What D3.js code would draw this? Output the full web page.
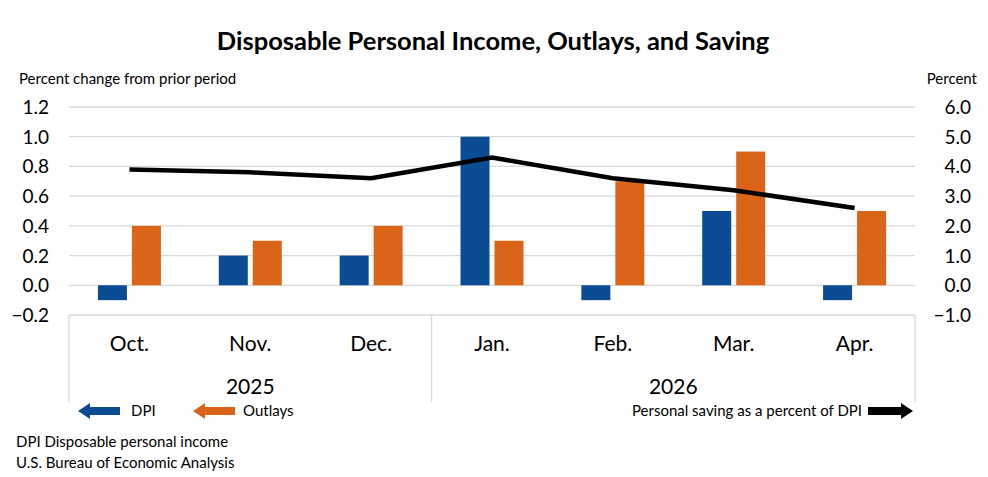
<!DOCTYPE html>
<html><head><meta charset="utf-8">
<script src="https://cdn.jsdelivr.net/npm/d3@7"></script>
<style>body{margin:0;background:#fff}text{font-family:Lato,"Open Sans",sans-serif}</style>
</head><body><svg id="c" width="988" height="477"></svg>
<script>
const months = ["Oct.","Nov.","Dec.","Jan.","Feb.","Mar.","Apr."];
const years = [{label:"2025",from:0,to:3},{label:"2026",from:3,to:7}];
const dpi = [-0.1,0.2,0.2,1.0,-0.1,0.5,-0.1];
const outlays = [0.4,0.3,0.4,0.3,0.7,0.9,0.5];
const saving = [3.9,3.8,3.6,4.3,3.6,3.2,2.6];
const leftTicks = [-0.2,0,0.2,0.4,0.6,0.8,1.0,1.2];
const rightTicks = [-1,0,1,2,3,4,5,6];

const svg = d3.select("#c");
const L=69,R=915,T=107,B=315;
const x = d3.scaleBand().domain(months).range([L,R]);
const y = d3.scaleLinear().domain([-0.2,1.2]).range([B,T]);
const y2 = d3.scaleLinear().domain([-1,6]).range([B,T]);
const blue="#0B4C94", orange="#DA6519";

svg.append("text").attr("x",493).attr("y",50).attr("text-anchor","middle")
  .attr("font-size",25.5).attr("font-weight","bold").text("Disposable Personal Income, Outlays, and Saving");
svg.append("text").attr("x",19).attr("y",84).attr("font-size",15).text("Percent change from prior period");
svg.append("text").attr("x",977).attr("y",84).attr("text-anchor","end").attr("font-size",15).text("Percent");

svg.append("g").selectAll("line").data(leftTicks).join("line")
  .attr("x1",L).attr("x2",R).attr("y1",d=>y(d)).attr("y2",d=>y(d))
  .attr("stroke","#d9d9d9").attr("stroke-width",1.3);
svg.append("g").selectAll("text").data(leftTicks).join("text")
  .attr("x",49).attr("y",d=>y(d)+7).attr("text-anchor","end").attr("font-size",19)
  .text(d=>(d<0?"\u2212":"")+Math.abs(d).toFixed(1));
svg.append("g").selectAll("text").data(rightTicks).join("text")
  .attr("x",971).attr("y",d=>y2(d)+7).attr("text-anchor","end").attr("font-size",19)
  .text(d=>(d<0?"\u2212":"")+Math.abs(d).toFixed(1));

[0,3,7].forEach(i=>{
  const xx = i<7 ? x(months[i]) : R;
  svg.append("line").attr("x1",xx).attr("x2",xx).attr("y1",B).attr("y2",402)
    .attr("stroke","#d9d9d9").attr("stroke-width",1.3);
});
svg.append("g").selectAll("text").data(months).join("text")
  .attr("x",d=>x(d)+x.bandwidth()/2).attr("y",351).attr("text-anchor","middle").attr("font-size",21).text(d=>d);
svg.append("g").selectAll("text").data(years).join("text")
  .attr("x",d=>(x(months[d.from])+(d.to<7?x(months[d.to]):R))/2).attr("y",394)
  .attr("text-anchor","middle").attr("font-size",21).text(d=>d.label);

const bw=29, gap=5;
const cx = m=>x(m)+x.bandwidth()/2;
svg.append("g").selectAll("rect").data(dpi).join("rect")
  .attr("x",(d,i)=>cx(months[i])-gap/2-bw).attr("width",bw)
  .attr("y",d=>y(Math.max(0,d))).attr("height",d=>Math.abs(y(d)-y(0))).attr("fill",blue);
svg.append("g").selectAll("rect").data(outlays).join("rect")
  .attr("x",(d,i)=>cx(months[i])+gap/2).attr("width",bw)
  .attr("y",d=>y(Math.max(0,d))).attr("height",d=>Math.abs(y(d)-y(0))).attr("fill",orange);

svg.append("path").datum(saving)
  .attr("d",d3.line().x((d,i)=>cx(months[i])).y(d=>y2(d)))
  .attr("fill","none").attr("stroke","#000").attr("stroke-width",4.5);

function arrow(x0,x1,yy,col,dir){
  const g=svg.append("g");
  if(dir<0){
    g.append("rect").attr("x",x0+10).attr("y",yy-4).attr("width",x1-x0-10).attr("height",8).attr("fill",col);
    g.append("path").attr("d",`M${x0},${yy}L${x0+12},${yy-8}L${x0+12},${yy+8}Z`).attr("fill",col);
  } else {
    g.append("rect").attr("x",x0).attr("y",yy-4).attr("width",x1-x0-10).attr("height",8).attr("fill",col);
    g.append("path").attr("d",`M${x1},${yy}L${x1-12},${yy-8}L${x1-12},${yy+8}Z`).attr("fill",col);
  }
}
arrow(78,120,411,blue,-1);
svg.append("text").attr("x",131).attr("y",416).attr("font-size",15).text("DPI");
arrow(193,235,411,orange,-1);
svg.append("text").attr("x",243).attr("y",416).attr("font-size",15).text("Outlays");
svg.append("text").attr("x",862).attr("y",416).attr("text-anchor","end").attr("font-size",15).text("Personal saving as a percent of DPI");
arrow(868,913,411,"#000",1);

svg.append("text").attr("x",16).attr("y",447).attr("font-size",15).text("DPI Disposable personal income");
svg.append("text").attr("x",16).attr("y",468).attr("font-size",15).text("U.S. Bureau of Economic Analysis");
</script></body></html>
